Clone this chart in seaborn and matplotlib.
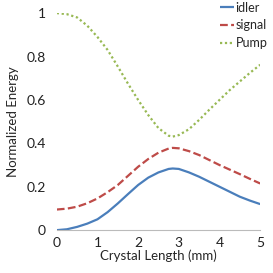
import matplotlib
matplotlib.use('Agg')
import matplotlib.pyplot as plt
import seaborn as sns
import pandas as pd

# values (crystal length in mm)
length = [0, 0.25, 0.5, 0.75, 1, 1.25, 1.5, 1.75, 2, 2.25, 2.5, 2.75, 2.85,
          3, 3.25, 3.5, 3.75, 4, 4.25, 4.5, 4.75, 5]
idler = [0.0, 0.004, 0.015, 0.03, 0.05, 0.083, 0.123, 0.166, 0.208, 0.242, 0.266, 0.282, 0.284,
         0.282, 0.266, 0.246, 0.223, 0.2, 0.177, 0.154, 0.136, 0.12]
signal = [0.095, 0.099, 0.108, 0.124, 0.146, 0.175, 0.208, 0.25, 0.292, 0.328, 0.357, 0.376, 0.379,
          0.377, 0.364, 0.346, 0.323, 0.3, 0.279, 0.258, 0.236, 0.215]
pump = [1.0, 0.995, 0.98, 0.942, 0.89, 0.83, 0.754, 0.675, 0.6, 0.53, 0.47, 0.435, 0.431,
        0.438, 0.465, 0.508, 0.555, 0.6, 0.645, 0.685, 0.725, 0.762]
series = ['idler', 'signal', 'Pump']
colors = ['#4A7EBB', '#BE4B48', '#98B954']

df = pd.DataFrame({
    'x': length * 3,
    'y': idler + signal + pump,
    'name': [s for s in series for _ in length],
})

sns.set_style('white')
plt.rcParams['font.family'] = ['Lato', 'DejaVu Sans']

fig = plt.figure(figsize=(2.73, 2.73), dpi=100)
ax = fig.add_axes([0.208, 0.157, 0.745, 0.795])

sns.lineplot(data=df, x='x', y='y', hue='name', style='name',
             palette=colors, dashes=[(1, 0), (3.5, 1.5), (1, 1.2)],
             linewidth=1.6, ax=ax, legend=True)

ax.set_xlim(0, 5)
ax.set_ylim(0, 1)
ax.set_xticks(range(6))
ax.set_yticks([0, 0.2, 0.4, 0.6, 0.8, 1])
ax.set_yticklabels(['0', '0.2', '0.4', '0.6', '0.8', '1'])
ax.set_xlabel('Crystal Length (mm)', fontsize=9.5, labelpad=0)
ax.set_ylabel('Normalized Energy', fontsize=9.5, labelpad=5)
ax.tick_params(axis='both', labelsize=10, colors='#222222')
ax.tick_params(axis='x', length=4, width=0.8, color='#BBBBBB', direction='out', pad=1)
ax.tick_params(axis='y', length=0, pad=8)

for side in ['top', 'right', 'left']:
    ax.spines[side].set_visible(False)
ax.spines['bottom'].set_color('#BBBBBB')
ax.spines['bottom'].set_linewidth(0.8)

leg = ax.legend(loc='upper right', bbox_to_anchor=(1.06, 1.075), frameon=False,
                fontsize=9, handlelength=1.1, handletextpad=0.1,
                labelspacing=0.45, borderaxespad=0)

fig.savefig('out.png', dpi=100)
